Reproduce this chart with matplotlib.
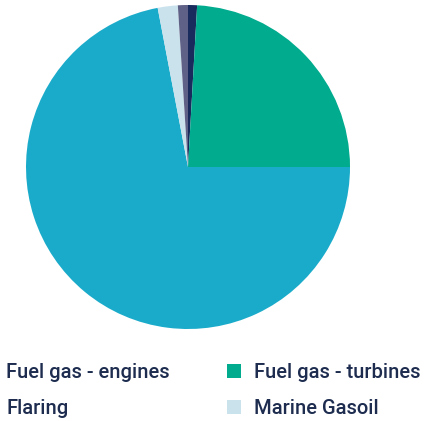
import matplotlib
matplotlib.use("Agg")
import matplotlib.pyplot as plt
from matplotlib.patches import Patch

# emission sources, listed clockwise from 12 o'clock
labels = ["Other", "Fuel gas - turbines", "Fuel gas - engines", "Marine Gasoil", "Flaring"]
shares = [0.9, 24.1, 72.0, 2.0, 1.0]
colors = ["#192b5c", "#00ab8e", "#1aabca", "#c9e2ec", "#5f6186"]

# legend order as printed under the pie
legend_labels = ["Fuel gas - engines", "Flaring", "Fuel gas - turbines", "Marine Gasoil"]

text_color = "#1d2c4f"
plt.rcParams['font.family'] = ['Roboto', 'DejaVu Sans']

fig = plt.figure(figsize=(4.43, 4.21), dpi=100)
ax = fig.add_axes([26 / 443, 92 / 421, 324 / 443, 324 / 421])
ax.pie(shares, colors=colors, startangle=90, counterclock=False,
       wedgeprops=dict(linewidth=0))
ax.set_xlim(-1, 1)
ax.set_ylim(-1, 1)
ax.set_aspect('equal')
ax.axis('off')

col = dict(zip(labels, colors))
handles = [Patch(facecolor=col[l], edgecolor='none') for l in legend_labels]
leg = fig.legend(handles, legend_labels, ncol=2, loc='upper left',
                 bbox_to_anchor=(-21 / 443, 1 - 363 / 421),
                 frameon=False, borderpad=0, borderaxespad=0,
                 prop=dict(size=14.5, weight='medium'),
                 handlelength=0.70, handleheight=0.70, handletextpad=0.65,
                 columnspacing=2.83, labelspacing=0.85)
for t in leg.get_texts():
    t.set_color(text_color)

fig.savefig("out.png", dpi=100)
